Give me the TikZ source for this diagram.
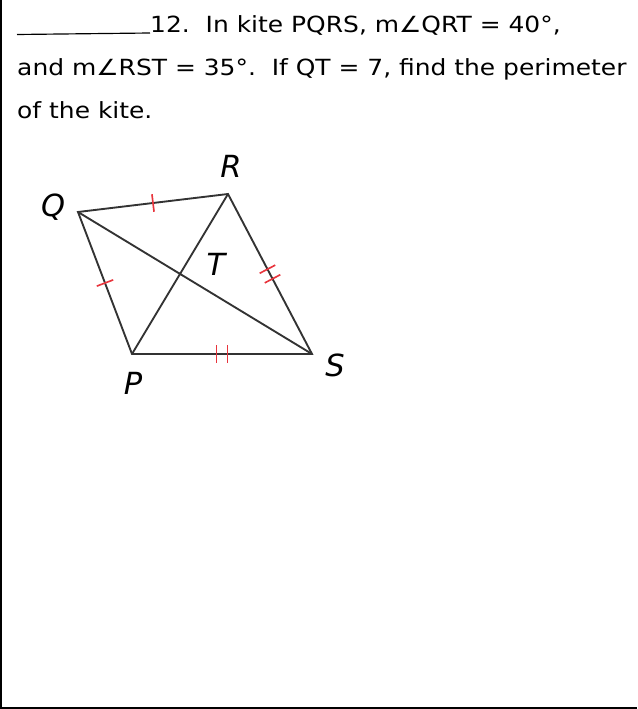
\documentclass[tikz,border=0pt]{standalone}
\usepackage{fontspec}
\setmainfont{DejaVu Sans}
\newfontfamily\qfont[FakeStretch=1.12]{DejaVu Sans}
\usepackage{tikz}
\usetikzlibrary{calc}
\definecolor{kiteGray}{HTML}{333333}
\definecolor{tickRed}{HTML}{E8343C}

\begin{document}
\begin{tikzpicture}[x=0.03cm,y=-0.03cm,
  txt/.style={anchor=base west, inner sep=0pt, font=\qfont\fontsize{19}{22}\selectfont},
  vlabel/.style={font=\fontsize{26}{30}\selectfont\itshape, inner sep=0pt},
  side/.style={kiteGray, line width=1.6pt},
  onetick/.style={sloped, draw=tickRed, line width=1.4pt, rectangle, minimum width=0pt, minimum height=15pt, inner sep=0pt}]
\useasboundingbox (0,0) rectangle (637,709);
% frame
\draw[line width=2.2pt] (1,0) -- (1,708) -- (637,708);
% question text
\coordinate (blank) at (17,34.5);
\node[txt] (line1) at (150,33) {12.\ \ In kite PQRS, m∠QRT = 40°,};
\draw[line width=1pt] (blank) -- (line1.base west);
\node[txt] (line2) at (17,76) {and m∠RST = 35°.\ \ If QT = 7, find the perimeter};
\node[txt] (line3) at (17,119) {of the kite.};
% kite
\coordinate (Q) at (78,212);
\coordinate (R) at (228,194);
\coordinate (S) at (312,354);
\coordinate (P) at (132,354);
\coordinate (T) at (intersection of Q--S and R--P);
\draw[side] (Q) -- (R) node[onetick, pos=.5]{}
  -- (S) node[onetick, pos=.47]{} node[onetick, pos=.53]{}
  -- (P) node[onetick, pos=.47]{} node[onetick, pos=.53]{}
  -- (Q) node[onetick, pos=.5]{} -- cycle;
\draw[side] (Q) -- (S) (R) -- (P);
% vertex labels
\node[vlabel] (lQ) at (53,207) {Q};
\node[vlabel] (lR) at (231,166) {R};
\node[vlabel] (lT) at (216,264) {T};
\node[vlabel] (lS) at (335,365) {S};
\node[vlabel] (lP) at (133,383) {P};
\end{tikzpicture}
\end{document}
